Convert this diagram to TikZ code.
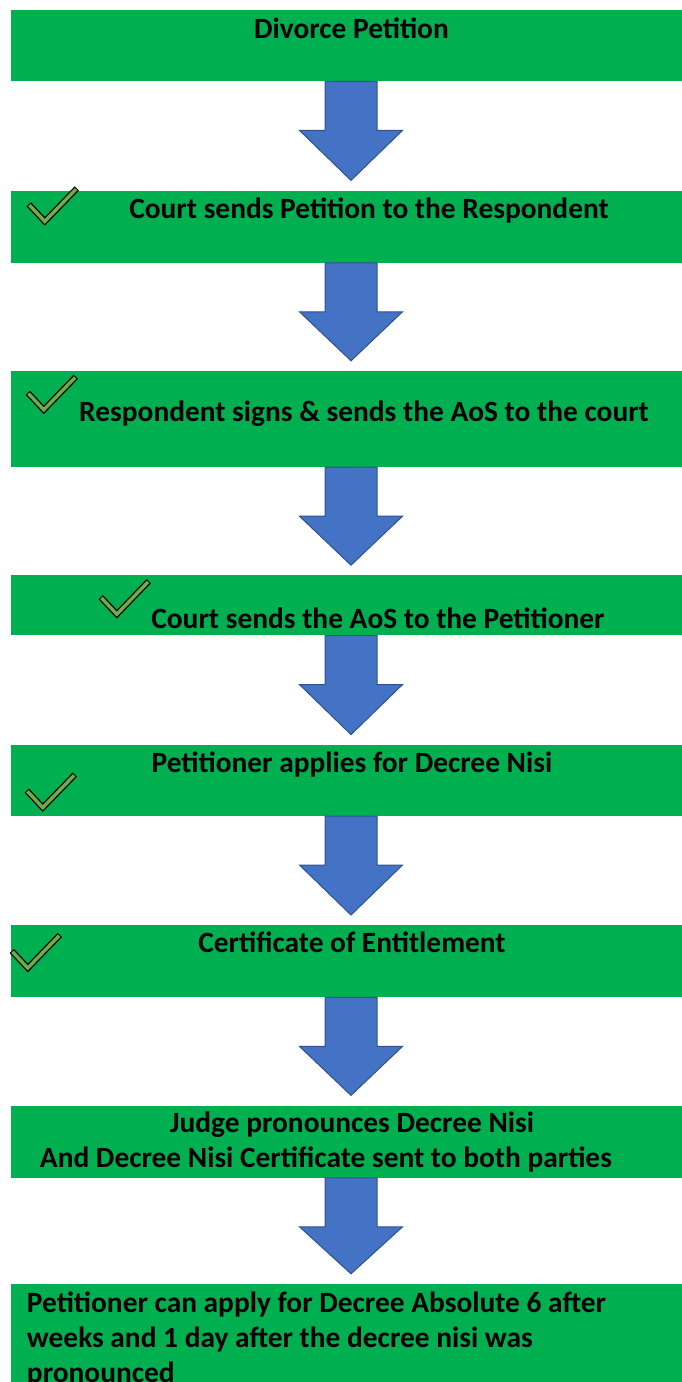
\documentclass[tikz,border=0pt]{standalone}
\usepackage{fontspec}
\setmainfont{Carlito}
\usetikzlibrary{positioning,calc}
\definecolor{stepgreen}{HTML}{00B050}
\definecolor{arrblue}{HTML}{4472C4}
\definecolor{arrline}{HTML}{2F528F}
\definecolor{tickgreen}{HTML}{70AD47}
% block arrow from one step down to the next
\newcommand{\flowarr}[2]{%
  \path (#1.south) coordinate (as) (#2.north) coordinate (ae);
  \filldraw[blockarr] ($(as)+(-26,0)$) -- ($(as)+(-26,-49)$)
    -- ($(as)+(-51.5,-49)$) -- ($(ae)+(0,10)$) -- ($(as)+(51.5,-49)$)
    -- ($(as)+(26,-49)$) -- ($(as)+(26,0)$) -- cycle;}
% tick mark, given its lower corner
\newcommand{\donemark}[1]{%
  \draw[black, line width=6pt, line join=miter]
    ($(#1)+(-16,17)$) -- (#1) -- ($(#1)+(32,33)$);
  \draw[tickgreen, line width=3.4pt, line join=miter,
        shorten <=1pt, shorten >=1pt]
    ($(#1)+(-16,17)$) -- (#1) -- ($(#1)+(32,33)$);}

\begin{document}
\begin{tikzpicture}[x=1pt, y=1pt,
    font=\fontsize{29.4}{35}\selectfont\bfseries,
    box/.style={fill=stepgreen, minimum width=680pt, inner sep=0pt},
    lbl/.style={anchor=base, inner sep=0pt},
    blockarr/.style={fill=arrblue, draw=arrline, line width=1pt,
                     line join=miter}
  ]
  \useasboundingbox (0,0) rectangle (682,-1382);
  \clip (0,0) rectangle (682,-1382);

  % steps
  \node[box, minimum height=71pt, anchor=north] (b1) at (351,-10) {};
  \node[box, minimum height=72pt, below=109pt of b1] (b2) {};
  \node[box, minimum height=96pt, below=108pt of b2] (b3) {};
  \node[box, minimum height=60pt, below=108pt of b3] (b4) {};
  \node[box, minimum height=71pt, below=109pt of b4] (b5) {};
  \node[box, minimum height=72pt, below=109pt of b5] (b6) {};
  \node[box, minimum height=72pt, below=108pt of b6] (b7) {};
  \node[box, minimum height=120pt, below=106pt of b7] (b8) {};

  % texts (base = last line)
  \node[lbl] (t1) at ($(b1.north)+(0.5,-28)$) {Divorce Petition};
  \node[lbl] (t2) at ($(b2.north)+(18,-28)$)
    {Court sends Petition to the Respondent};
  \node[lbl] (t3) at ($(b3.north)+(13,-51)$)
    {Respondent signs \& sends the AoS to the court};
  \node[lbl] (t4) at ($(b4.north)+(27,-53)$)
    {Court sends the AoS to the Petitioner};
  \node[lbl] (t5) at ($(b5.north)+(1,-28)$)
    {Petitioner applies for Decree Nisi};
  \node[lbl] (t6) at ($(b6.north)+(1,-27)$) {Certificate of Entitlement};
  \node[lbl, align=center] (t7) at ($(b7.north)+(1,-62)$)
    {Judge pronounces Decree Nisi\\
     And Decree Nisi Certificate sent to both parties\hspace*{52pt}};
  \node[lbl, align=left, anchor=base west] (t8) at ($(b8.north west)+(16,-99)$)
    {Petitioner can apply for Decree Absolute 6 after\\
     weeks and 1 day after the decree nisi was\\
     pronounced};

  % ticks
  \coordinate (k2) at ($(b2.north west)+(34,-31)$);
  \coordinate (k3) at ($(b3.north west)+(33,-39)$);
  \coordinate (k4) at ($(b4.north west)+(106,-39)$);
  \coordinate (k5) at ($(b5.north west)+(32,-63)$);
  \coordinate (k6) at ($(b6.north west)+(17,-43)$);
  \donemark{k2}
  \donemark{k3}
  \donemark{k4}
  \donemark{k5}
  \donemark{k6}

  % arrows
  \flowarr{b1}{b2}
  \flowarr{b2}{b3}
  \flowarr{b3}{b4}
  \flowarr{b4}{b5}
  \flowarr{b5}{b6}
  \flowarr{b6}{b7}
  \flowarr{b7}{b8}
\end{tikzpicture}
\end{document}
